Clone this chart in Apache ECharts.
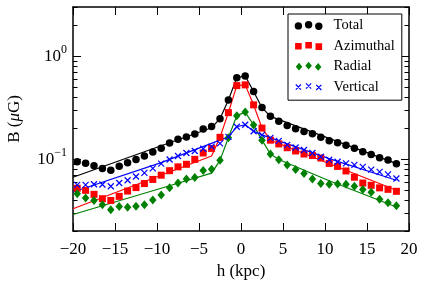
<!DOCTYPE html>
<html>
<head>
<meta charset="utf-8">
<script src="https://cdn.jsdelivr.net/npm/echarts@6/dist/echarts.min.js"></script>
<style>html,body{margin:0;padding:0;background:#fff}#c{width:425px;height:292px}</style>
</head>
<body>
<div id="c"></div>
<script>
// ---- data ----
const hPts = [-19.5,-18.5,-17.5,-16.5,-15.5,-14.5,-13.5,-12.5,-11.5,-10.5,-9.5,-8.5,-7.5,-6.5,-5.5,-4.5,-3.5,-2.5,-1.5,-0.5,0.5,1.5,2.5,3.5,4.5,5.5,6.5,7.5,8.5,9.5,10.5,11.5,12.5,13.5,14.5,15.5,16.5,17.5,18.5];
const total = [0.094,0.091,0.086,0.081,0.078,0.085,0.092,0.099,0.107,0.117,0.127,0.143,0.156,0.164,0.175,0.196,0.207,0.247,0.375,0.618,0.641,0.454,0.316,0.260,0.233,0.212,0.197,0.185,0.176,0.163,0.151,0.144,0.136,0.127,0.118,0.111,0.103,0.098,0.090];
const azimuthal = [0.052,0.0497,0.0454,0.0412,0.0396,0.0434,0.0489,0.0528,0.0578,0.0634,0.0697,0.0771,0.084,0.0889,0.0993,0.1145,0.1268,0.1625,0.2825,0.517,0.5255,0.336,0.200,0.1525,0.1403,0.1288,0.1198,0.1119,0.1082,0.1023,0.0907,0.0848,0.0766,0.0666,0.0585,0.0556,0.0525,0.0508,0.0486];
const radial = [0.0461,0.0419,0.0396,0.036,0.0322,0.0346,0.0341,0.0348,0.036,0.0399,0.0447,0.0525,0.0585,0.0641,0.0662,0.0775,0.0798,0.0971,0.1614,0.264,0.2857,0.214,0.1525,0.1119,0.0984,0.0873,0.0793,0.0724,0.0641,0.0578,0.0569,0.0573,0.0569,0.0544,0.0506,0.0477,0.0408,0.0376,0.0352];
const vertical = [0.0562,0.0562,0.0569,0.0566,0.0544,0.0585,0.0622,0.0677,0.0734,0.0811,0.0903,0.0989,0.107,0.1145,0.1198,0.1259,0.132,0.1419,0.1643,0.2059,0.2154,0.1861,0.1719,0.1607,0.1501,0.1372,0.1296,0.1225,0.1145,0.1053,0.0984,0.0941,0.0907,0.0879,0.084,0.0789,0.0751,0.071,0.0647];

// model (fit) curves
const totalFitH = [-20,-3.5,-2.5,-1.5,-0.5,0.5,1.5,2.5,3.5,18.5];
const totalFit  = [0.0666,0.2013,0.2466,0.3746,0.6183,0.6412,0.4538,0.3155,0.2598,0.0903];
const azFitH = [-20,-3.5,-2.5,-1.5,-0.5,0.5,1.5,2.5,3.5,18.5];
const azFit  = [0.0329,0.107,0.1625,0.2825,0.5172,0.5255,0.3361,0.2,0.1525,0.0497];
const radFitH = [-20,-9.5,-3.5,-2.5,-1.5,-0.5,0.5,1.5,2.5,3.5,4.5,10.5,18.5];
const radFit  = [0.0289,0.052,0.0729,0.0971,0.1614,0.264,0.2857,0.214,0.1525,0.1119,0.0989,0.0616,0.0342];
const vertFitH = [-20,-9.5,-1.5,-0.5,0.5,1.5,2.5,10.5,18.5];
const vertFit  = [0.0478,0.0924,0.1643,0.2059,0.2154,0.1861,0.1719,0.1011,0.0622];

const seriesNames = ['Total','Azimuthal','Radial','Vertical'];
const xTicks = [-20,-15,-10,-5,0,5,10,15,20];
const yMajor = [0.1, 1];
const yMinor = [0.02,0.03,0.04,0.05,0.06,0.07,0.08,0.09,0.2,0.3,0.4,0.5,0.6,0.7,0.8,0.9,2,3];

// ---- helpers ----
const FONT = 'Liberation Serif';
const pair = (xs, ys) => xs.map((x, i) => [x, ys[i]]);
const ICON_W = 28, ICON_H = 9;
const centers = [[3.8,4.9],[14,3.8],[24.2,5.2]];
const frame = `M0 0L0 0M${ICON_W} ${ICON_H}L${ICON_W} ${ICON_H}`;
function circ(cx, cy, r){return `M${cx-r} ${cy}A${r} ${r} 0 1 0 ${cx+r} ${cy}A${r} ${r} 0 1 0 ${cx-r} ${cy}Z`;}
function sq(cx, cy, h){return `M${cx-h} ${cy-h}L${cx+h} ${cy-h}L${cx+h} ${cy+h}L${cx-h} ${cy+h}Z`;}
function dia(cx, cy, h){return `M${cx} ${cy-h}L${cx+h*0.85} ${cy}L${cx} ${cy+h}L${cx-h*0.85} ${cy}Z`;}
function xx(cx, cy, h){return `M${cx-h} ${cy-h}L${cx+h} ${cy+h}M${cx+h} ${cy-h}L${cx-h} ${cy+h}`;}
const iconTotal = 'path://' + frame + centers.map(c => circ(c[0], c[1], 3.7)).join('');
const iconAz = 'path://' + frame + centers.map(c => sq(c[0], c[1], 3.3)).join('');
const iconRad = 'path://' + frame + centers.map(c => dia(c[0], c[1], 4.1)).join('');
const iconVert = 'path://' + frame + centers.map(c => xx(c[0], c[1], 2.6)).join('');

const colors = {Total:'#000000', Azimuthal:'#ff0000', Radial:'#008000', Vertical:'#0000ff'};

const chart = echarts.init(document.getElementById('c'), null, {renderer:'canvas'});

const axLine = {show:true, onZero:false, lineStyle:{color:'#000', width:1.5}};
const noLine = {show:false, onZero:false};
const yBase = {type:'log', logBase:10, min:0.02, max:3, splitLine:{show:false}, minorTick:{show:false}};

function lineSeries(name, xs, ys, color){
  return {name:name, type:'line', data:pair(xs, ys), showSymbol:false, symbol:'none',
    lineStyle:{color:color, width:1.2}, itemStyle:{color:color}, z:2, silent:true, animation:false};
}

const option = {
  animation:false,
  backgroundColor:'#fff',
  textStyle:{fontFamily:FONT},
  grid:{left:73, right:16, top:7, bottom:61, containLabel:false, outerBoundsMode:'none'},
  xAxis:[
    {type:'value', min:-20, max:20, interval:5, position:'bottom',
     axisLine:axLine, splitLine:{show:false},
     axisTick:{show:true, inside:true, length:8, lineStyle:{color:'#000', width:1}},
     axisLabel:{show:true, margin:10, color:'#000', fontSize:17, fontFamily:FONT,
       formatter:v => v < 0 ? '\u2212' + (-v) : String(v)},
     name:'h (kpc)', nameLocation:'middle', nameGap:30,
     nameTextStyle:{color:'#000', fontSize:17, fontFamily:FONT}},
    {type:'value', min:-20, max:20, interval:5, position:'top',
     axisLine:axLine, splitLine:{show:false},
     axisTick:{show:true, inside:true, length:8, lineStyle:{color:'#000', width:1}},
     axisLabel:{show:false}}
  ],
  yAxis:[
    Object.assign({}, yBase, {position:'left', axisLine:axLine,
      axisTick:{show:true, inside:true, length:8, customValues:yMajor, lineStyle:{color:'#000', width:1}},
      axisLabel:{show:true, customValues:yMajor, margin:6, color:'#000',
        formatter:v => '{b|10}{s|' + String(Math.round(Math.log10(v))).replace('-', '\u2212') + '}',
        rich:{b:{fontSize:17, fontFamily:FONT, color:'#000', lineHeight:24},
              s:{fontSize:12, fontFamily:FONT, color:'#000', verticalAlign:'top', lineHeight:12}}},
      name:'B ({i|\u03bc}G)', nameLocation:'middle', nameGap:50, nameRotate:90,
      nameTextStyle:{color:'#000', fontSize:17, fontFamily:FONT,
        rich:{i:{fontStyle:'italic', fontSize:17, fontFamily:FONT, color:'#000'}}}}),
    Object.assign({}, yBase, {position:'left', axisLine:noLine,
      axisTick:{show:true, inside:true, length:4.5, customValues:yMinor, lineStyle:{color:'#000', width:1}},
      axisLabel:{show:false}}),
    Object.assign({}, yBase, {position:'right', axisLine:axLine,
      axisTick:{show:true, inside:true, length:8, customValues:yMajor, lineStyle:{color:'#000', width:1}},
      axisLabel:{show:false}}),
    Object.assign({}, yBase, {position:'right', axisLine:noLine,
      axisTick:{show:true, inside:true, length:4.5, customValues:yMinor, lineStyle:{color:'#000', width:1}},
      axisLabel:{show:false}})
  ],
  legend:{
    orient:'vertical', left:288, top:14, selectedMode:false,
    padding:[4,7,6,6], itemGap:5.4, itemWidth:ICON_W, itemHeight:ICON_H,
    backgroundColor:'#fff', borderColor:'#000', borderWidth:1, borderRadius:0,
    textStyle:{color:'#000', fontSize:14.5, fontFamily:FONT, lineHeight:14, padding:[0,0,0,6]},
    data:[
      {name:'Total', icon:iconTotal, itemStyle:{color:'#000', borderWidth:0}},
      {name:'Azimuthal', icon:iconAz, itemStyle:{color:'#ff0000', borderWidth:0}},
      {name:'Radial', icon:iconRad, itemStyle:{color:'#008000', borderWidth:0}},
      {name:'Vertical', icon:iconVert, itemStyle:{color:'rgba(0,0,0,0)', borderColor:'#0000ff', borderWidth:1.2}}
    ]
  },
  series:[
    lineSeries('Total fit', totalFitH, totalFit, colors.Total),
    lineSeries('Azimuthal fit', azFitH, azFit, colors.Azimuthal),
    lineSeries('Radial fit', radFitH, radFit, colors.Radial),
    lineSeries('Vertical fit', vertFitH, vertFit, colors.Vertical),
    {name:'Total', type:'scatter', data:pair(hPts, total), symbol:'circle', symbolSize:7.5,
     itemStyle:{color:'#000', opacity:1}, z:3},
    {name:'Azimuthal', type:'scatter', data:pair(hPts, azimuthal), symbol:'rect', symbolSize:7,
     itemStyle:{color:'#ff0000', opacity:1}, z:3},
    {name:'Radial', type:'scatter', data:pair(hPts, radial), symbol:'diamond', symbolSize:[7.5,9],
     itemStyle:{color:'#008000', opacity:1}, z:3},
    {name:'Vertical', type:'scatter', data:pair(hPts, vertical), symbol:'path://M0 0L10 10M10 0L0 10', symbolSize:6,
     itemStyle:{color:'rgba(0,0,0,0)', borderColor:'#0000ff', borderWidth:1.2, opacity:1}, z:3}
  ]
};
chart.setOption(option);
</script>
</body>
</html>
